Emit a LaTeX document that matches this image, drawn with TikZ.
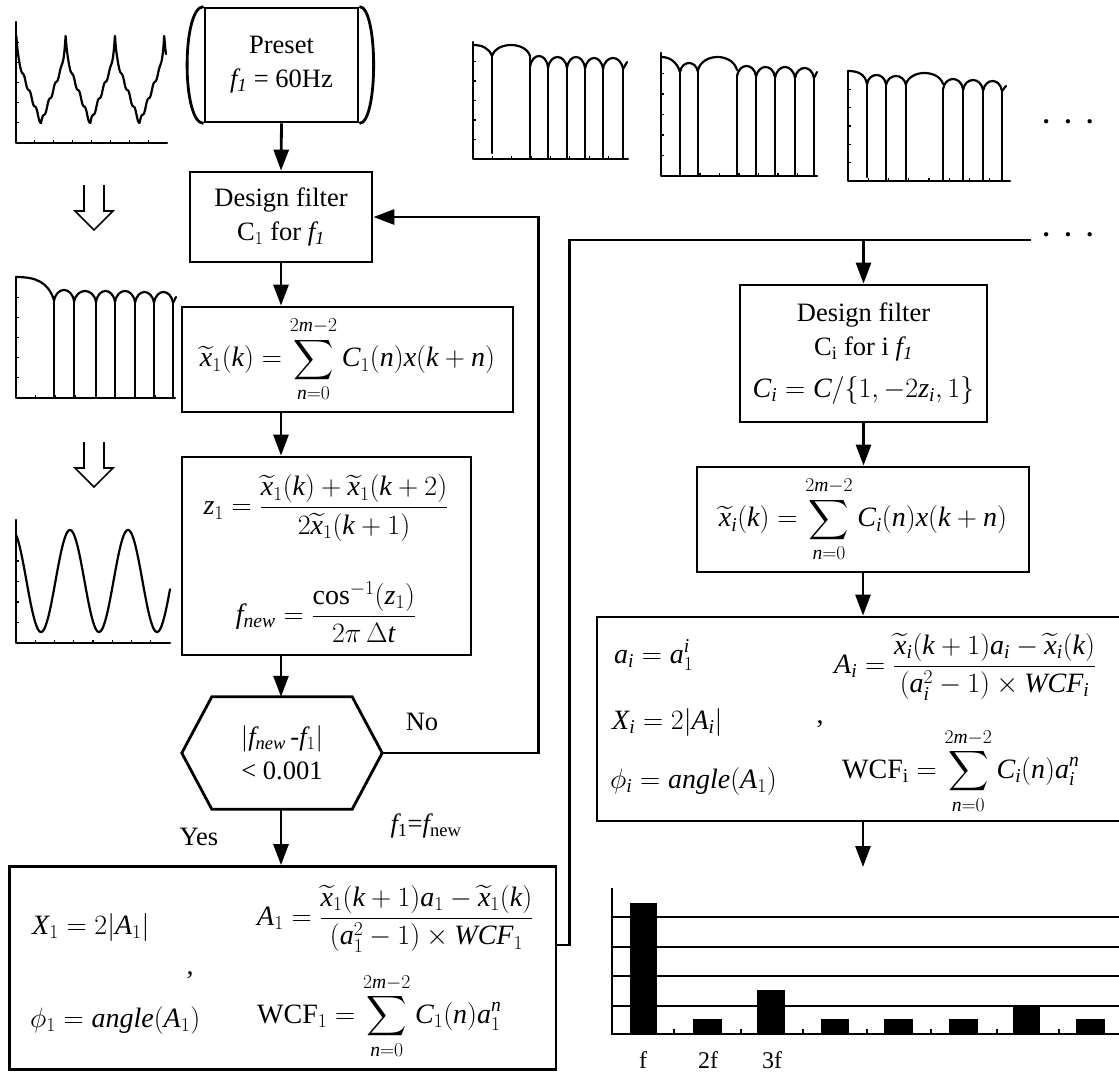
\RequirePackage{fix-cm}
\documentclass[tikz,border=0pt]{standalone}
\usepackage{fontspec}
\setmainfont{Liberation Serif}
\DeclareFontShape{OMX}{cmex}{m}{n}{<->cmex10}{}
\DeclareSymbolFont{tlet}{TU}{\rmdefault}{m}{it}
\def\mletter#1{\DeclareMathSymbol{#1}{\mathalpha}{tlet}{`#1}}
\mletter a\mletter b\mletter c\mletter d\mletter e\mletter f\mletter g\mletter h\mletter i\mletter j\mletter k\mletter l\mletter m
\mletter n\mletter o\mletter p\mletter q\mletter r\mletter s\mletter t\mletter u\mletter v\mletter w\mletter x\mletter y\mletter z
\mletter A\mletter B\mletter C\mletter D\mletter E\mletter F\mletter G\mletter H\mletter I\mletter J\mletter K\mletter L\mletter M
\mletter N\mletter O\mletter P\mletter Q\mletter R\mletter S\mletter T\mletter U\mletter V\mletter W\mletter X\mletter Y\mletter Z
\usetikzlibrary{arrows.meta}
\newcommand\ftxt{\fontsize{26.5}{34}\selectfont}
\newcommand\fmth{\fontsize{28}{34}\selectfont}
\newcommand\scal[4]{\draw[wave] (#1,#4) .. controls ({#1+0.12*(#2-#1)},{(8*#3-2*#4)/6}) and ({#2-0.12*(#2-#1)},{(8*#3-2*#4)/6}) .. (#2,#4);}
\newcommand\axt[4]{\foreach \i in {1,...,7}{\draw[tick] ({#1+\i*(#3-#1)/8},#2) -- ++(0,-3);}\foreach \i in {1,...,5}{\draw[tick] (#1,{#2-\i*(#2-#4)/6}) -- ++(3,0);}}
\begin{document}
\begin{tikzpicture}[x=1pt,y=-1pt,
  box/.style={draw, line width=2.8pt, inner sep=0pt, align=center, font=\ftxt},
  arr/.style={line width=2.8pt, -{Triangle[length=21pt,width=15pt]}},
  ln/.style={line width=2.8pt},
  wave/.style={line width=2.2pt, line join=round, line cap=round},
  tick/.style={line width=1.2pt},
  hollow/.style={line width=1.6pt, line join=miter},
  mth/.style={inner sep=0pt, font=\fmth},
  lbl/.style={inner sep=0pt, font=\ftxt},
  declare function={tri(\x)=1-abs(2*mod((\x+57.6)/49.3,1)-1);}]
\useasboundingbox (0,0) rectangle (1119,1073);
\fill[white] (0,0) rectangle (1119,1073);

% ---------- left waveforms ----------
\draw[wave] (16,22) -- (16,143) -- (167,143);
\axt{16}{143}{167}{22}
\draw[wave] plot[domain=16:166, samples=500, variable=\x] (\x,{123-66*tri(\x)-22*pow(tri(\x),16)-2.2*sin(58.42*(\x-41))*(1-pow(tri(\x),6))});

\draw[hollow] (84,185) -- (84,211) -- (75,211) -- (94,230) -- (113,211) -- (104,211) -- (104,185);

\draw[wave] (16,277) -- (16,398) -- (175,398);
\axt{16}{398}{175}{277}
\draw[wave] (16,277) .. controls (36,277) and (48,282) .. (54,300);
\scal{54}{74}{290}{301}\scal{74}{96}{291}{302}\scal{96}{115}{291}{302}
\scal{115}{135}{291}{302}\scal{135}{154}{292}{303}\scal{154}{173}{292}{303}
\draw[wave] (173,303) -- (176,297);
\foreach \x/\y in {54/300,74/301,96/302,115/302,135/302,154/303,173/303}{\draw[wave] (\x,\y) -- (\x,398);}

\draw[hollow] (84,442) -- (84,468) -- (75,468) -- (94,487) -- (113,468) -- (104,468) -- (104,442);

\draw[wave] (16,520) -- (16,643) -- (170,643);
\axt{16}{643}{170}{520}
\draw[wave] plot[domain=16:170, samples=200, variable=\x] (\x,{581-51*cos(6.2069*(\x-70))});

% ---------- top right waveforms ----------
\draw[wave] (473,42) -- (473,159) -- (628,159);
\axt{473}{159}{628}{42}
\draw[wave] (473,45) .. controls (482,45) and (489,48) .. (492,56);
\scal{492}{530}{45}{56}\scal{530}{548}{56}{67}\scal{548}{567}{57}{68}
\scal{567}{585}{57}{68}\scal{585}{603}{58}{69}\scal{603}{623}{58}{69}
\draw[wave] (623,69) -- (627,62);
\draw[wave] (492,56) -- (492,153);
\foreach \x/\y in {530/56,548/67,567/68,585/68,603/69,623/69}{\draw[wave] (\x,\y) -- (\x,159);}

\draw[wave] (661,53) -- (661,176) -- (817,176);
\axt{661}{176}{817}{53}
\draw[wave] (661,57) .. controls (670,57) and (677,62) .. (680,72);
\scal{680}{698}{63}{72}\scal{698}{737}{57}{70}\scal{737}{756}{66}{76}
\scal{756}{775}{67}{77}\scal{775}{795}{67}{78}\scal{795}{814}{68}{78}
\draw[wave] (814,78) -- (817,72);
\foreach \x/\y in {680/72,698/70,737/76,756/77,775/78,795/78,814/78}{\draw[wave] (\x,\y) -- (\x,176);}

\draw[wave] (848,71) -- (848,181) -- (1010,181);
\axt{848}{181}{1010}{71}
\draw[wave] (848,71) .. controls (858,71) and (865,74) .. (867,84);
\scal{867}{886}{75}{84}\scal{886}{906}{76}{85}\scal{906}{943}{73}{84}
\scal{943}{963}{79}{89}\scal{963}{983}{80}{90}\scal{983}{1002}{81}{91}
\draw[wave] (1002,91) -- (1006,86);
\draw[wave] (867,84) -- (867,177);
\foreach \x/\y in {886/85,906/84,943/89,963/90,983/91,1002/91}{\draw[wave] (\x,\y) -- (\x,181);}

\node[lbl, font=\ftxt\bfseries] (dotsA) at (1068,125) {\textperiodcentered\hspace{13pt}\textperiodcentered\hspace{13pt}\textperiodcentered};

% ---------- left column ----------
\coordinate (colL) at (281,0);
\node[box, minimum width=153pt, minimum height=114pt] (preset) at (281.5,65) {Preset\\$f_{\mathit{1}}$ = 60Hz};
\draw[ln] (preset.north west) .. controls ([xshift=-22pt]preset.north west) and ([xshift=-22pt]preset.south west) .. (preset.south west);
\draw[ln] (preset.north east) .. controls ([xshift=19pt]preset.north east) and ([xshift=19pt]preset.south east) .. (preset.south east);

\node[box, minimum width=182pt, minimum height=90pt] (df1) at (281,217) {Design filter\\C$_1$ for $f_{\mathit{1}}$};
\node[box, minimum width=331pt, minimum height=105pt, font=\fmth] (x1) at (347.5,359.5) {$\displaystyle \widetilde{x}_1(k)=\sum_{n=0}^{2m-2}C_1(n)x(k+n)$};
\node[box, minimum width=289pt, minimum height=198pt] (z1) at (326.5,556) {};
\node[mth] (z1eq) at (326,508) {$\displaystyle z_1=\frac{\widetilde{x}_1(k)+\widetilde{x}_1(k+2)}{2\widetilde{x}_1(k+1)}$};
\node[mth] (fneweq) at (326,612) {$\displaystyle f_{new}=\frac{\cos^{-1}(z_1)}{2\pi\,\Delta t}$};

\node[minimum width=200pt, minimum height=112pt, inner sep=0pt, align=center, font=\ftxt] (hex) at (282,753) {$|f_{new}$\,-$f_1|$\\< 0.001};
\draw[ln, line join=miter] (hex.west) -- ([xshift=30pt]hex.north west) -- ([xshift=-30pt]hex.north east) -- (hex.east) -- ([xshift=-30pt]hex.south east) -- ([xshift=30pt]hex.south west) -- cycle;

\node[lbl] (no) at (422,722) {No};
\node[lbl] (yes) at (199,837) {Yes};
\node[lbl] (fupd) at (426,826) {$f_{\mathrm{1}}$=$f_{\mathrm{new}}$};

\node[box, minimum width=546.5pt, minimum height=203pt] (b1) at (282.75,968) {};
\node[mth, anchor=west] (b1x) at (32,927) {$X_1=2\bigl|A_1\bigr|$};
\node[mth, anchor=west] (b1A) at (257,919) {$\displaystyle A_1=\frac{\widetilde{x}_1(k+1)a_1-\widetilde{x}_1(k)}{(a_1^2-1)\times WCF_1}$};
\node[mth] (b1c) at (190,975) {,};
\node[mth, anchor=west] (b1p) at (30,1020) {$\phi_1=angle(A_1)$};
\node[mth, anchor=west] (b1w) at (257,1016) {$\displaystyle \mathrm{WCF}_1=\sum_{n=0}^{2m-2}C_1(n)a_1^n$};

% left connectors
\draw[arr] (preset.south) -- (df1.north);
\draw[arr] (df1.south) -- (df1.south |- x1.north);
\draw[arr] (x1.south -| colL) -- (z1.north -| colL);
\draw[arr] (z1.south -| colL) -- (hex.north -| colL);
\draw[arr] (hex.south -| colL) -- (b1.north -| colL);
\draw[arr] (hex.east) -- ++(156,0) |- (df1.east);

% ---------- right column ----------
\coordinate (busend) at (1031,240);
\coordinate (bexit) at ([yshift=23pt]b1.east);
\draw[ln] (bexit) -- ++(12,0) |- (busend);
\node[lbl, font=\ftxt\bfseries] (dotsB) at (1068,238) {\textperiodcentered\hspace{13pt}\textperiodcentered\hspace{13pt}\textperiodcentered};

\node[box, minimum width=247pt, minimum height=137pt] (dfi) at (863.5,353.5) {Design filter\\C$_{\mathrm i}$ for i $f_{\mathit 1}$\\[8pt]{\fmth$C_i=C/\{1,-2z_i,1\}$}};
\node[box, minimum width=332pt, minimum height=105pt, font=\fmth] (xi) at (863,519.5) {$\displaystyle \widetilde{x}_i(k)=\sum_{n=0}^{2m-2}C_i(n)x(k+n)$};
\node[box, minimum width=533pt, minimum height=204pt] (bigb) at (863.5,719) {};
\node[mth, anchor=west] (ai) at (614,655) {$a_i=a_1^i$};
\node[mth, anchor=west] (Ai) at (834,667) {$\displaystyle A_i=\frac{\widetilde{x}_i(k+1)a_i-\widetilde{x}_i(k)}{(a_i^2-1)\times WCF_i}$};
\node[mth, anchor=west] (Xi) at (612,722) {$X_i=2\bigl|A_i\bigr|$};
\node[mth] (ci) at (820,724) {,};
\node[mth, anchor=west] (phii) at (610,781) {$\phi_i=angle(A_1)$};
\node[mth, anchor=west] (wcfi) at (842,771) {$\displaystyle \mathrm{WCF_i}=\sum_{n=0}^{2m-2}C_i(n)a_i^n$};

\coordinate (charttop) at (863,867);
\draw[arr] (dfi.north |- busend) -- (dfi.north);
\draw[arr] (dfi.south) -- (dfi.south |- xi.north);
\draw[arr] (xi.south) -- (xi.south |- bigb.north);
\draw[arr] (bigb.south -| charttop) -- (charttop);

% ---------- bar chart ----------
\foreach \y in {917,947,976,1006}{\draw[line width=2pt] (612,\y) -- (1125,\y);}
\draw[line width=2.2pt] (612,888) -- (612,1034) -- (1125,1034);
\foreach \a/\b/\t in {630/657/903,693/722/1019,757/785/990,821/849/1019,884/913/1019,949/978/1019,1013/1040/1006,1076/1105/1019}{\fill (\a,\t) rectangle (\b,1034);}
\foreach \x in {674,741,803,867,931,997,1059}{\draw[line width=2pt] (\x,1034) -- (\x,1029);}
\node[lbl, font=\fontsize{24}{28}\selectfont] (lf) at (643,1060) {f};
\node[lbl, font=\fontsize{24}{28}\selectfont] (l2f) at (708,1060) {2f};
\node[lbl, font=\fontsize{24}{28}\selectfont] (l3f) at (772,1060) {3f};
\end{tikzpicture}
\end{document}
